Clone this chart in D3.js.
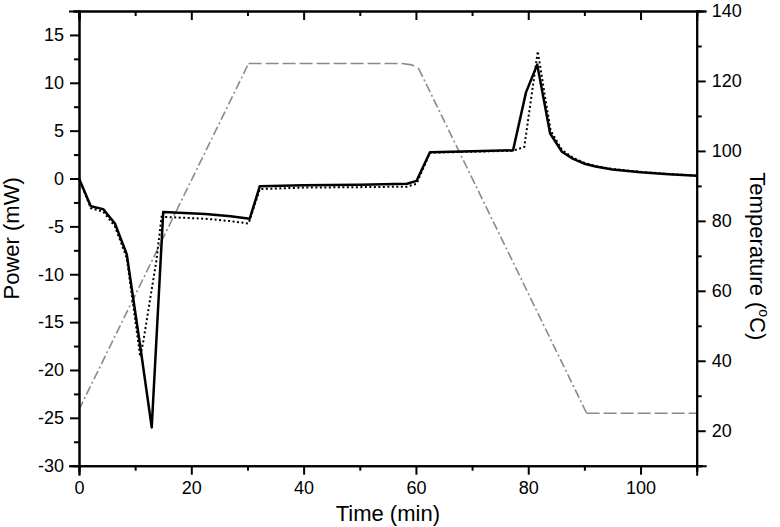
<!DOCTYPE html>
<html>
<head>
<meta charset="utf-8">
<script src="https://cdn.jsdelivr.net/npm/d3@7"></script>
<style>
    body { margin: 0; background: #fff; }
    svg text { font-family: "Liberation Sans", Arial, sans-serif; fill: #000; }
    .axis path, .axis line { stroke: #000; stroke-width: 2px; }
</style>
</head>
<body>
<div id="chart"></div>
<script>
// solid power curve
const timeSolid  = [0, 2.1, 4.3, 6.4, 8.5, 10.9, 12.95, 15.0, 22.5, 27, 30.4, 32.2, 40, 50, 58.4, 60.1, 62.5, 70, 77.3, 79.6, 81.6, 83.9, 86, 88, 90, 92, 95, 100, 105, 110];
const powerSolid = [0, -2.9, -3.2, -4.7, -7.9, -17.5, -26, -3.5, -3.7, -3.95, -4.2, -0.8, -0.7, -0.65, -0.55, -0.25, 2.75, 2.85, 2.95, 9.0, 11.9, 4.7, 2.8, 2.05, 1.55, 1.25, 0.95, 0.65, 0.45, 0.3];

// dotted power curve
const timeDotted  = [0, 2.1, 4.3, 6.4, 8.5, 10.9, 11.4, 13.8, 14.7, 22.5, 27, 30.2, 32.2, 40, 50, 58.4, 60.1, 62.5, 70, 77.3, 79.3, 81.7, 83.0, 84.0, 86, 88, 90, 92, 95, 100, 105, 110];
const powerDotted = [0, -3.1, -3.45, -5.0, -8.3, -18.6, -17.2, -8.5, -4.0, -4.2, -4.45, -4.7, -1.1, -0.95, -0.9, -0.85, -0.55, 2.7, 2.8, 2.9, 3.3, 13.3, 8.5, 5.0, 3.0, 2.15, 1.65, 1.3, 1.0, 0.7, 0.48, 0.3];

// temperature programme
const timeTemp = [0, 30.2, 57.5, 59.3, 60.5, 90.4, 110];
const tempVals = [26, 125, 125, 124.6, 123.5, 25, 25];

const xTicks = [0, 20, 40, 60, 80, 100];
const xMinor = [10, 30, 50, 70, 90, 110];
const powerTicks = [-30, -25, -20, -15, -10, -5, 0, 5, 10, 15];
const powerMinor = [-27.5, -22.5, -17.5, -12.5, -7.5, -2.5, 2.5, 7.5, 12.5, 17.5];
const tempTicks = [20, 40, 60, 80, 100, 120, 140];
const tempMinor = [10, 30, 50, 70, 90, 110, 130];

const W = 780, H = 527;
const m = { left: 79, right: 696.7, top: 11, bottom: 465.7 };

const svg = d3.select("#chart").append("svg")
    .attr("width", W)
    .attr("height", H);

const x = d3.scaleLinear().domain([0, 110]).range([m.left, m.right]);
const yP = d3.scaleLinear().domain([-30, 17.5]).range([m.bottom, m.top]);
const yT = d3.scaleLinear().domain([10, 140]).range([m.bottom, m.top]);

// temperature line, split into flat (dashed) and ramp (dash-dot) parts
const temp = timeTemp.map((t, i) => ({ t: t, v: tempVals[i] }));
const groups = [];
for (let i = 1; i < temp.length; i++) {
    const slope = Math.abs((temp[i].v - temp[i - 1].v) / (temp[i].t - temp[i - 1].t));
    const flat = slope < 1;
    const last = groups[groups.length - 1];
    if (last && last.flat === flat) last.pts.push(temp[i]);
    else groups.push({ flat: flat, pts: [temp[i - 1], temp[i]] });
}
const tempLine = d3.line().x(d => x(d.t)).y(d => yT(d.v));
svg.selectAll(".temp")
    .data(groups)
    .enter().append("path")
    .attr("class", "temp")
    .attr("d", d => tempLine(d.pts))
    .attr("fill", "none")
    .attr("stroke", "#8a8a8a")
    .attr("stroke-width", 1.6)
    .attr("stroke-dasharray", d => d.flat ? "13,4" : "9,3,2,3");

const powerLine = d3.line().x(d => x(d[0])).y(d => yP(d[1]));

svg.append("path")
    .datum(d3.zip(timeDotted, powerDotted))
    .attr("d", powerLine)
    .attr("fill", "none")
    .attr("stroke", "#000")
    .attr("stroke-width", 2)
    .attr("stroke-dasharray", "2,2.5");

svg.append("path")
    .datum(d3.zip(timeSolid, powerSolid))
    .attr("d", powerLine)
    .attr("fill", "none")
    .attr("stroke", "#000")
    .attr("stroke-width", 2.5)
    .attr("stroke-linejoin", "round");

// axes (plain hyphen for negatives, as in the original)
const fmt = d => String(d);

function addAxis(axis, tf) {
    const g = svg.append("g").attr("class", "axis").attr("transform", tf).call(axis);
    g.selectAll("text").style("font-size", "18px");
    return g;
}

addAxis(d3.axisBottom(x).tickValues(xTicks).tickSize(9).tickPadding(7).tickFormat(fmt), `translate(0,${m.bottom})`);
addAxis(d3.axisBottom(x).tickValues(xMinor).tickSize(5).tickFormat(""), `translate(0,${m.bottom})`);
addAxis(d3.axisTop(x).tickValues(xTicks).tickSize(-9).tickFormat(""), `translate(0,${m.top})`);
addAxis(d3.axisTop(x).tickValues(xMinor).tickSize(-5).tickFormat(""), `translate(0,${m.top})`);

addAxis(d3.axisLeft(yP).tickValues(powerTicks).tickSize(9).tickPadding(6).tickFormat(fmt), `translate(${m.left},0)`);
addAxis(d3.axisLeft(yP).tickValues(powerMinor).tickSize(5).tickFormat(""), `translate(${m.left},0)`);

addAxis(d3.axisRight(yT).tickValues(tempTicks).tickSize(9).tickPadding(6).tickFormat(fmt), `translate(${m.right},0)`);
addAxis(d3.axisRight(yT).tickValues(tempMinor).tickSize(5).tickFormat(""), `translate(${m.right},0)`);

svg.selectAll(".axis path.domain").attr("stroke-linecap", "square");

// titles
svg.append("text")
    .attr("x", (m.left + m.right) / 2)
    .attr("y", 521)
    .attr("text-anchor", "middle")
    .style("font-size", "22px")
    .text("Time (min)");

svg.append("text")
    .attr("transform", `translate(19,${(m.top + m.bottom) / 2}) rotate(-90)`)
    .attr("text-anchor", "middle")
    .style("font-size", "22px")
    .text("Power (mW)");

const tt = svg.append("text")
    .attr("transform", `translate(750,${(m.top + m.bottom) / 2 + 18}) rotate(90)`)
    .attr("text-anchor", "middle")
    .style("font-size", "22px");
tt.append("tspan").text("Temperature (");
tt.append("tspan").attr("dy", -9).style("font-size", "14px").text("o");
tt.append("tspan").attr("dy", 9).text("C)");
</script>
</body>
</html>
